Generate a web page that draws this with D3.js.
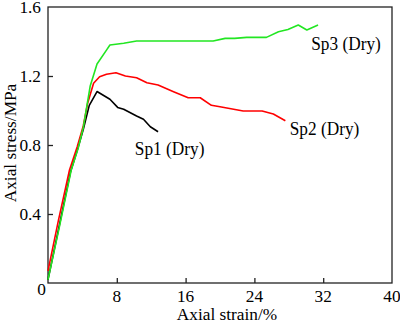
<!DOCTYPE html>
<html>
<head>
<meta charset="utf-8">
<script src="https://cdn.jsdelivr.net/npm/d3@7"></script>
<style>
  body { margin: 0; background: #fff; }
  text { font-family: "Liberation Serif", "Times New Roman", serif; fill: #000; }
</style>
</head>
<body>
<script>
// Chart size
const w = 400;
const h = 322;
const margin = { top: 7, right: 8, bottom: 39, left: 48 };
const fontSize = 17.3;

// Data (strain %, stress MPa)
const sp1Strain = [0, 1.3, 2.6, 3.4, 4.1, 4.8, 5.7, 7.2, 8.1, 8.8, 10.3, 11.1, 11.9, 12.8];
const sp1Stress = [0.02, 0.33, 0.64, 0.77, 0.89, 1.03, 1.11, 1.065, 1.018, 1.007, 0.968, 0.949, 0.906, 0.877];

const sp2Strain = [0, 1.2, 2.5, 3.4, 4.1, 4.6, 5.3, 6.0, 6.8, 7.9, 9.0, 10.3, 11.5, 12.8, 14.6, 16.3, 17.7, 19.0, 20.0, 22.7, 24.9, 26.2, 27.6];
const sp2Stress = [0.07, 0.36, 0.655, 0.79, 0.91, 1.04, 1.158, 1.196, 1.21, 1.219, 1.2, 1.19, 1.161, 1.148, 1.109, 1.074, 1.074, 1.03, 1.022, 0.997, 0.997, 0.98, 0.941];

const sp3Strain = [0, 1.3, 2.7, 3.5, 4.1, 4.9, 5.7, 6.8, 7.2, 8.8, 10.3, 17.7, 19.2, 20.6, 21.7, 23.1, 25.4, 26.8, 27.9, 29.1, 30.1, 31.4];
const sp3Stress = [0.02, 0.32, 0.655, 0.78, 0.9, 1.14, 1.27, 1.35, 1.38, 1.39, 1.403, 1.403, 1.403, 1.418, 1.418, 1.424, 1.424, 1.457, 1.47, 1.496, 1.467, 1.496];

const seriesNames = ['Sp1 (Dry)', 'Sp2 (Dry)', 'Sp3 (Dry)'];
const seriesColors = ['#000000', '#ff0000', '#22e622'];
// label anchor (strain, stress) for each series name
const labelStrain = [10.1, 28.1, 30.6];
const labelStress = [0.742, 0.858, 1.351];

const xTicks = [0, 8, 16, 24, 32, 40];
const yTicks = [0, 0.4, 0.8, 1.2, 1.6];

const series = [
  { x: sp1Strain, y: sp1Stress },
  { x: sp2Strain, y: sp2Stress },
  { x: sp3Strain, y: sp3Stress }
];

const svg = d3.select('body').append('svg').attr('width', w).attr('height', h);

const x = d3.scaleLinear().domain([0, 40]).range([margin.left, w - margin.right]);
const y = d3.scaleLinear().domain([0, 1.6]).range([h - margin.bottom, margin.top]);

// Text helper: places a text at (px, py), optionally rotated / stretched
const addText = (px, py, str, anchor, rotate, stretch) => {
  svg.append('text')
    .attr('transform', 'translate(' + px + ',' + py + ')' +
      (rotate ? ' rotate(' + rotate + ')' : '') +
      (stretch ? ' scale(1,' + stretch + ')' : ''))
    .attr('text-anchor', anchor || 'start')
    .attr('font-size', fontSize)
    .text(str);
};

// Frame
svg.append('rect')
  .attr('x', x(0)).attr('y', y(1.6))
  .attr('width', x(40) - x(0)).attr('height', y(0) - y(1.6))
  .attr('fill', 'none').attr('stroke', '#222').attr('stroke-width', 1.3);

// Bottom axis, ticks pointing in
const xAxis = svg.append('g')
  .attr('transform', 'translate(0,' + y(0) + ')')
  .call(d3.axisBottom(x).tickValues(xTicks.slice(1, -1)).tickSizeInner(-5).tickSizeOuter(0).tickFormat(''));
xAxis.select('.domain').remove();
xAxis.selectAll('line').attr('stroke', '#222').attr('stroke-width', 1.3);

// Left axis
const yAxis = svg.append('g')
  .attr('transform', 'translate(' + x(0) + ',0)')
  .call(d3.axisLeft(y).tickValues(yTicks.slice(1, -1)).tickSizeInner(-5).tickSizeOuter(0).tickFormat(''));
yAxis.select('.domain').remove();
yAxis.selectAll('line').attr('stroke', '#222').attr('stroke-width', 1.3);

// Tick labels
xTicks.forEach(v => {
  if (v === 0) addText(x(v) - 6.5, y(0) + 12, '0', 'middle');
  else addText(x(v), y(0) + 18.5, String(v), 'middle');
});
yTicks.forEach(v => {
  if (v === 0) return;
  addText(x(0) - 7, y(v) + (v === 1.6 ? 5.5 : 6), d3.format('.1f')(v), 'end');
});

// Axis titles
addText(227, 319.5, 'Axial strain/%', 'middle');
addText(15.5, 143, 'Axial stress/MPa', 'middle', -90);

// Curves
const line = d3.line().x(d => x(d[0])).y(d => y(d[1]));
series.forEach((s, k) => {
  svg.append('path')
    .datum(s.x.map((v, i) => [v, s.y[i]]))
    .attr('d', line)
    .attr('fill', 'none')
    .attr('stroke', seriesColors[k])
    .attr('stroke-width', 1.6)
    .attr('stroke-linejoin', 'round');

  addText(x(labelStrain[k]), y(labelStress[k]), seriesNames[k], 'start', 0, 1.12);
});
</script>
</body>
</html>
